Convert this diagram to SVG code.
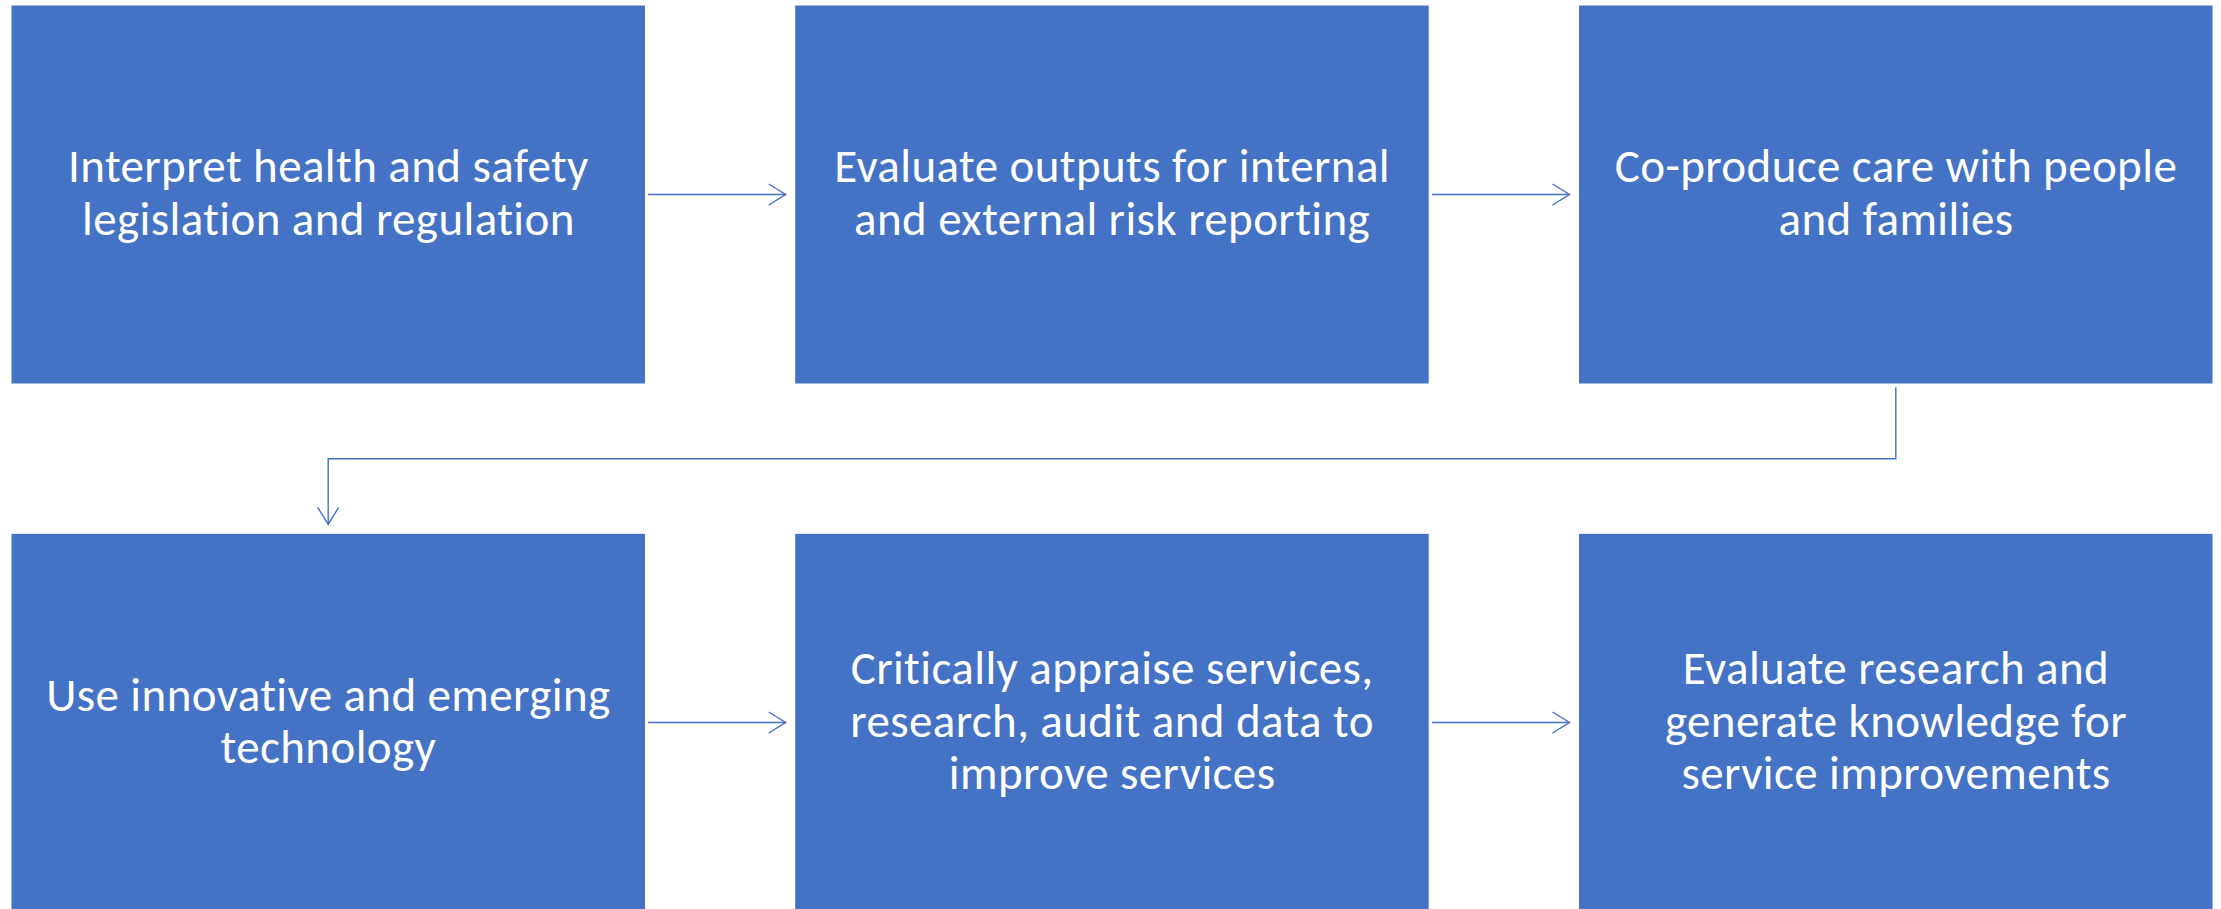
<svg xmlns="http://www.w3.org/2000/svg" width="2221" height="909" viewBox="0 0 2221 909">
<defs>
<style>
.box{fill:#4472C4;stroke:#ffffff;stroke-width:1}
.lbl{fill:#ffffff;font-family:Carlito,"Liberation Sans Narrow","Liberation Sans",Arial,sans-serif;font-size:47px;letter-spacing:0.4px;text-anchor:middle}
.con{fill:none;stroke:#4472C4;stroke-width:1.4}
</style>
<marker id="arr" viewBox="0 0 20 24" refX="18" refY="12" markerWidth="20" markerHeight="24" markerUnits="userSpaceOnUse" orient="auto">
<path d="M1,1.5 L18,12 L1,22.5" fill="none" stroke="#4472C4" stroke-width="1.4"/>
</marker>
</defs>
<rect width="2221" height="909" fill="#ffffff"/>
<g id="connectors">
<line class="con" x1="648" y1="194.5" x2="785.7" y2="194.5" marker-end="url(#arr)"/>
<line class="con" x1="1432" y1="194.5" x2="1569.5" y2="194.5" marker-end="url(#arr)"/>
<polyline class="con" points="1895.8,387.3 1895.8,458.7 328.2,458.7 328.2,524.3" marker-end="url(#arr)"/>
<line class="con" x1="648" y1="722.5" x2="785.7" y2="722.5" marker-end="url(#arr)"/>
<line class="con" x1="1432" y1="722.5" x2="1569.5" y2="722.5" marker-end="url(#arr)"/>
</g>
<g id="node1">
<rect class="box" x="11" y="5" width="634.5" height="379"/>
<text class="lbl"><tspan x="328.4" y="182.4">Interpret health and safety</tspan><tspan x="328.4" y="234.9">legislation and regulation</tspan></text>
</g>
<g id="node2">
<rect class="box" x="794.7" y="5" width="634.5" height="379"/>
<text class="lbl"><tspan x="1112.1" y="182.4">Evaluate outputs for internal</tspan><tspan x="1112.1" y="234.9">and external risk reporting</tspan></text>
</g>
<g id="node3">
<rect class="box" x="1578.5" y="5" width="634.5" height="379"/>
<text class="lbl"><tspan x="1896" y="182.4">Co-produce care with people</tspan><tspan x="1896" y="234.9">and families</tspan></text>
</g>
<g id="node4">
<rect class="box" x="11" y="533.3" width="634.5" height="379"/>
<text class="lbl"><tspan x="328.4" y="710.5">Use innovative and emerging</tspan><tspan x="328.4" y="763">technology</tspan></text>
</g>
<g id="node5">
<rect class="box" x="794.7" y="533.3" width="634.5" height="379"/>
<text class="lbl"><tspan x="1112.1" y="684.3">Critically appraise services,</tspan><tspan x="1112.1" y="736.8">research, audit and data to</tspan><tspan x="1112.1" y="789.3">improve services</tspan></text>
</g>
<g id="node6">
<rect class="box" x="1578.5" y="533.3" width="634.5" height="379"/>
<text class="lbl"><tspan x="1896" y="684.3">Evaluate research and</tspan><tspan x="1896" y="736.8">generate knowledge for</tspan><tspan x="1896" y="789.3">service improvements</tspan></text>
</g>
</svg>
